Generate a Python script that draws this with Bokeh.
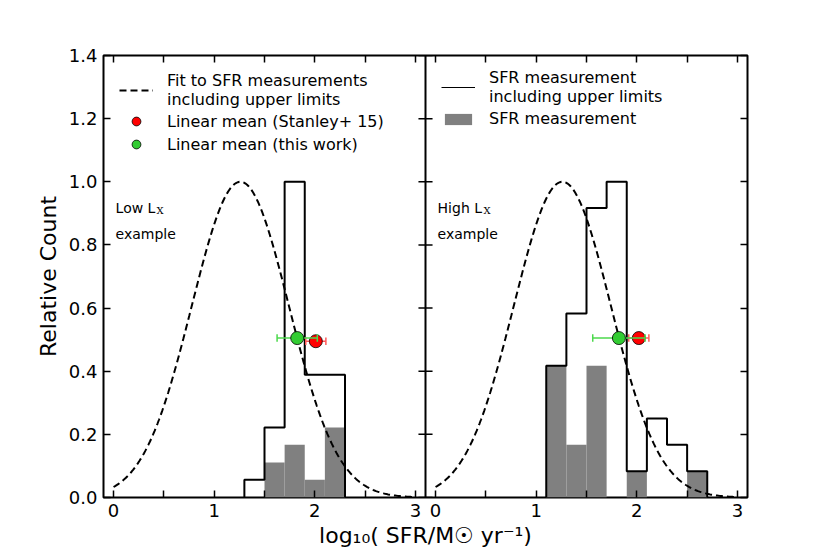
import numpy as np
from bokeh.plotting import figure
from bokeh.models import (Range1d, LinearAxis, FixedTicker, Span, Legend, LegendItem,
                          CustomLabelingPolicy)
from bokeh.core.properties import value
from bokeh.embed import file_html
from bokeh.resources import INLINE

# ---------------- data ----------------
OFFSET = 3.2            # right panel drawn shifted along the shared x axis
PANEL_MIN, PANEL_MAX = -0.1, 3.1
X_TICKS = [0, 0.5, 1, 1.5, 2, 2.5, 3]
Y_TICKS = [0, 0.2, 0.4, 0.6, 0.8, 1.0, 1.2, 1.4]

# Low Lx example
low_edges = [1.3, 1.5, 1.7, 1.9, 2.1, 2.3]
low_all = [0.056, 0.222, 1.0, 0.389, 0.389]          # incl. upper limits
low_meas = [0.0, 0.111, 0.167, 0.056, 0.222]         # measurements only
low_fit_mu, low_fit_sigma = 1.26, 0.483
low_stanley = (2.01, 0.495, 0.10)                    # x, y, xerr
low_this = (1.825, 0.505, 0.20)

# High Lx example
high_edges = [1.1, 1.3, 1.5, 1.7, 1.9, 2.1, 2.3, 2.5, 2.7]
high_all = [0.417, 0.583, 0.917, 1.0, 0.083, 0.25, 0.167, 0.083]
high_meas = [0.417, 0.167, 0.417, 0.0, 0.083, 0.0, 0.0, 0.083]
high_fit_mu, high_fit_sigma = 1.26, 0.483
high_stanley = (2.02, 0.505, 0.10)
high_this = (1.822, 0.505, 0.26)

FONT = "DejaVu Sans"
GRAY = "#808080"
RED = "#ff0000"
GREEN = "#33cc33"

p = figure(width=814, height=550, output_backend="svg", toolbar_location=None,
           x_range=Range1d(PANEL_MIN, PANEL_MAX + OFFSET), y_range=Range1d(0, 1.4),
           min_border_left=103, min_border_top=55, min_border_right=67, min_border_bottom=52)
p.grid.visible = False
p.outline_line_color = "black"
p.outline_line_width = 2
p.background_fill_color = "white"
p.border_fill_color = "white"

# ticks: both panels
xt = [t for t in X_TICKS] + [t + OFFSET for t in X_TICKS]
overrides = {}
for t in X_TICKS:
    lab = str(int(t)) if float(t).is_integer() else ""
    overrides[t] = lab
    overrides[t + OFFSET] = lab

NO_LABELS = CustomLabelingPolicy(code="return [];")
INT_LABELS = CustomLabelingPolicy(
    code="for (const i of indices) { if ((i % 7) % 2 == 0) yield i; }")


def style_axis(ax):
    ax.major_tick_in = 7
    ax.major_tick_out = 0
    ax.minor_tick_line_color = None
    ax.axis_line_color = None
    ax.major_tick_line_width = 1.5
    ax.major_tick_line_color = "black"
    ax.major_label_text_font = FONT
    ax.major_label_text_color = "black"
    ax.major_label_text_font_size = "18px"
    ax.axis_label_text_font = FONT
    ax.axis_label_text_font_style = "normal"
    ax.axis_label_text_font_size = "22px"
    ax.axis_label_text_color = "black"


xa = p.xaxis[0]
xa.ticker = FixedTicker(ticks=xt)
xa.major_label_overrides = overrides
xa.major_label_policy = INT_LABELS
style_axis(xa)
xa.major_label_standoff = 6
xa.axis_label = "log\u2081\u2080( SFR/M\u2609 yr\u207b\u00b9)"
xa.axis_label_standoff = 3

ya = p.yaxis[0]
ya.ticker = FixedTicker(ticks=Y_TICKS)
ya.major_label_overrides = {t: f"{t:.1f}" for t in Y_TICKS}
style_axis(ya)
ya.major_label_standoff = 6
ya.axis_label = "Relative Count"
ya.axis_label_standoff = 5

top = LinearAxis(ticker=FixedTicker(ticks=xt), major_label_policy=NO_LABELS)
style_axis(top)
p.add_layout(top, "above")
right = LinearAxis(ticker=FixedTicker(ticks=Y_TICKS), major_label_policy=NO_LABELS)
style_axis(right)
p.add_layout(right, "right")

# separator between the panels, with inward ticks on both sides
p.add_layout(Span(location=PANEL_MAX, dimension="height", line_color="black", line_width=2))
tick_len = 0.07
p.segment(x0=[PANEL_MAX] * len(Y_TICKS), x1=[PANEL_MAX - tick_len] * len(Y_TICKS),
          y0=Y_TICKS, y1=Y_TICKS, line_color="black", line_width=1.5)
p.segment(x0=[PANEL_MAX] * len(Y_TICKS), x1=[PANEL_MAX + tick_len] * len(Y_TICKS),
          y0=Y_TICKS, y1=Y_TICKS, line_color="black", line_width=1.5)


def draw_panel(off, edges, all_h, meas_h, mu, sigma, stanley, this):
    e = np.array(edges, dtype=float) + off
    # filled measurements
    meas = p.quad(left=e[:-1], right=e[1:], bottom=0, top=meas_h,
                  fill_color=GRAY, line_color=None)
    # outline including upper limits
    xs, ys = [e[0]], [0.0]
    for i, h in enumerate(all_h):
        xs += [e[i], e[i + 1]]
        ys += [h, h]
    xs.append(e[-1]); ys.append(0.0)
    outline = p.line(xs, ys, line_color="black", line_width=2)
    # gaussian fit
    gx = np.linspace(0, 3, 200)
    gy = np.exp(-0.5 * ((gx - mu) / sigma) ** 2)
    fit = p.line(gx + off, gy, line_color="black", line_width=2, line_dash="7 4")
    # means with error bars
    rends = {}
    for name, (mx, my, me), col, ecol in (("stanley", stanley, RED, "#ff5a5a"),
                                          ("this", this, GREEN, "#4cd94c")):
        p.segment(x0=[mx - me + off], x1=[mx + me + off], y0=[my], y1=[my],
                  line_color=ecol, line_width=1.5)
        p.segment(x0=[mx - me + off, mx + me + off], x1=[mx - me + off, mx + me + off],
                  y0=[my - 0.012] * 2, y1=[my + 0.012] * 2, line_color=ecol, line_width=1.5)
        rends[name] = p.scatter([mx + off], [my], size=13, fill_color=col,
                                line_color="black", line_width=0.8)
    return meas, outline, fit, rends


lm, lo, lf, lr = draw_panel(0.0, low_edges, low_all, low_meas, low_fit_mu, low_fit_sigma,
                            low_stanley, low_this)
hm, ho, hf, hr = draw_panel(OFFSET, high_edges, high_all, high_meas, high_fit_mu,
                            high_fit_sigma, high_stanley, high_this)

# panel annotations
for off, word in ((0.0, "Low L"), (OFFSET, "High L")):
    p.text(x=[0.02 + off], y=[0.918], text=[word], text_font=value(FONT),
           text_font_size="14px", text_baseline="middle", text_color="black")
    p.text(x=[0.02 + off], y=[0.835], text=["example"], text_font=value(FONT),
           text_font_size="14px", text_baseline="middle", text_color="black")
p.text(x=[0.02], y=[0.918], text=["X"], x_offset=41, y_offset=3,
       text_font=value("DejaVu Serif"), text_font_size="10px", text_baseline="middle",
       text_color="black")
p.text(x=[0.02 + OFFSET], y=[0.918], text=["X"], x_offset=46, y_offset=3,
       text_font=value("DejaVu Serif"), text_font_size="10px", text_baseline="middle",
       text_color="black")

# legend-only line with thin stroke (no visible data)
thin = p.line([np.nan], [np.nan], line_color="black", line_width=1)


def legend_style(lg, gh, lh):
    lg.border_line_color = None
    lg.background_fill_alpha = 0
    lg.label_text_font = FONT
    lg.label_text_font_size = "16px"
    lg.label_text_color = "black"
    lg.glyph_width = 34
    lg.glyph_height = gh
    lg.label_height = lh
    lg.label_standoff = 14
    lg.spacing = 1
    lg.padding = 12
    lg.margin = 0


leg_left = Legend(items=[
    LegendItem(label="Fit to SFR measurements\nincluding upper limits", renderers=[lf]),
    LegendItem(label="Linear mean (Stanley+ 15)", renderers=[lr["stanley"]]),
    LegendItem(label="Linear mean (this work)", renderers=[lr["this"]]),
], location=(16, 342))
legend_style(leg_left, 22, 22)
p.add_layout(leg_left, "center")

leg_right = Legend(items=[
    LegendItem(label="SFR measurement\nincluding upper limits", renderers=[thin]),
    LegendItem(label="SFR measurement", renderers=[hm]),
], location=(338, 367))
legend_style(leg_right, 14, 23)
p.add_layout(leg_right, "center")

open("out.html", "w").write(file_html(p, INLINE))
